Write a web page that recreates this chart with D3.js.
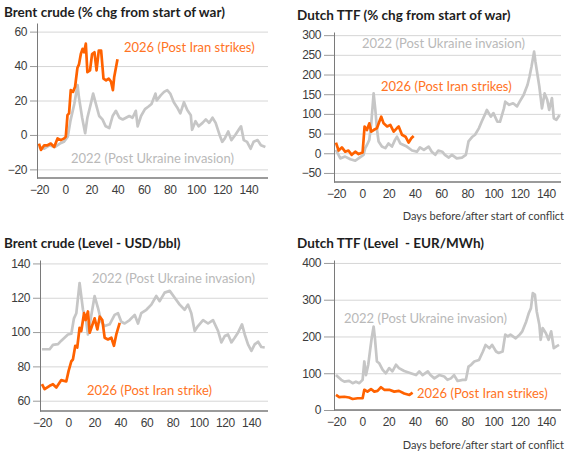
<!DOCTYPE html>
<html>
<head>
<meta charset="utf-8">
<script src="https://cdn.jsdelivr.net/npm/d3@7"></script>
<style>
  body { margin: 0; background: #fff; }
  svg { font-family: Lato, "Noto Sans", sans-serif; }
</style>
</head>
<body>
<svg id="chart"></svg>
<script>
const WIDTH = 568
const HEIGHT = 457

const xTicks = [-20, 0, 20, 40, 60, 80, 100, 120, 140]
const brentPctTicks = [-20, 0, 20, 40, 60]
const ttfPctTicks = [-50, 0, 50, 100, 150, 200, 250, 300]
const brentLvlTicks = [60, 80, 100, 120, 140]
const ttfLvlTicks = [0, 100, 200, 300, 400]

// [day, value]
const brentPct2022 = [[-20,-7],[-16,-8],[-12,-6],[-8,-7],[-4,-5],[-1,-4],[2,-1],[4,8],[7,18],[9.5,29],[10.5,22],[13,10],[15.3,1],[17,10],[19.6,18],[21.4,24],[23.5,18],[26,11],[28.5,9],[31,5],[33.7,4],[36.3,11],[38.8,14],[41.4,10],[44,9],[46.5,10],[49,11],[51.5,10],[54,14],[55.4,5],[58,11],[61,15],[63.7,16.5],[66,18],[69,24],[70,20],[73,23],[75.6,25],[78,26],[80.3,24],[83,19],[85.6,16],[88,12.5],[90.8,19],[93.3,14.5],[96,11.5],[97,3],[99.6,8],[102,5],[105,7],[107.5,9],[110,7],[112.6,10],[115,7],[118,0],[120,-4],[122,-2],[124.6,2],[127,-3],[130,0],[132.6,3],[134.4,5],[136.5,-3],[139,-4],[141.7,-8],[144,-4],[147,-3],[149.6,-6],[153,-7]]
const brentPct2026 = [[-20,-5],[-18.5,-8.7],[-16,-6],[-13.4,-6],[-11,-5],[-8.4,-7],[-5.8,-2],[-3.3,-3],[-0.7,-2],[0.5,-1],[1.8,11.5],[3,12.5],[4.3,26],[6,25],[7.6,28],[9.4,39],[10.6,41],[12,47],[13.3,50],[14.5,48],[15.8,53],[17,36.5],[19,37.5],[20.6,47],[22.4,48],[24,37.5],[25.7,49],[27.5,49],[29.3,32.7],[31.3,31.7],[33.3,32.7],[35,31],[36.5,26],[37.5,33.7],[40,44]]

const ttfPct2022 = [[-20,8.5],[-16.7,-13],[-13,-8.5],[-9,-15],[-5.3,-19],[-2.8,-13],[1,-4],[2.3,13],[3.6,21],[5.4,34],[6.9,76],[8.7,152],[10,110],[11.3,59],[12.5,30],[15,17],[17.6,13],[20,25],[22.7,17],[25,34],[26.5,42],[29,25],[31.5,21],[34,17],[38,7],[41.7,4],[44,15],[47,8.5],[50.6,17],[53,4],[55.7,-4],[58,7],[61,4],[63,-4],[66,-11],[68.4,-4],[72,-13],[76,-11],[79,-4],[81,30],[84,42],[86,47],[89,64],[91,80],[94,102],[95,110],[98,93],[100,102],[103,80],[105,80],[108,114],[109,131],[112,123],[115,127],[118,119],[120,131],[123,148],[126,174],[127.5,195],[129,220],[131,258],[132,233],[135,169],[137,114],[139,152],[141,136],[142.5,110],[144.6,140],[146,89],[148,85],[150.4,97]]
const ttfPct2026 = [[-20,27],[-18,7],[-15.5,15],[-13,4],[-10.5,7],[-8,-4],[-5.3,4],[-2.8,-2],[0.3,2],[1.8,68],[3.6,59],[5.4,76],[6.9,55],[8.7,59],[11.3,64],[13,80],[14.5,93],[16.3,76],[19,68],[21.4,72],[24,55],[26.5,64],[27.8,68],[30.3,47],[33,42],[35.4,27],[37.4,38],[39.2,44]]

const brentLvl2022 = [[-20,90],[-14.1,90],[-11.6,92.5],[-7.7,93],[-5.2,95],[-0.1,98.6],[2.5,99],[4.5,108],[6.3,111],[8.8,128.6],[11.4,113],[13.9,106],[15.2,98.6],[17.8,110],[20.3,121],[22.9,114],[25.4,106],[28,103.5],[31.8,104.5],[35.6,110],[38.2,111],[40.7,106],[43.3,105],[47.1,107],[51,110],[53.5,105],[56,111],[59.9,113],[63.7,116],[67.5,121],[70.1,118],[73.9,123],[77.8,124],[81.6,120],[85.4,116],[89.2,113],[91.8,116],[94.3,111],[96.9,100.6],[99.4,103.5],[103.3,107],[107.1,105],[110.9,107],[114.8,100.6],[117.3,94],[119.9,97.7],[122.4,98.6],[125,94],[127.5,96.7],[130,99.6],[133.1,104.5],[135.2,98.6],[137.7,92.8],[140.3,89],[142.8,92.8],[145.4,94.4],[147.9,91.3],[150.5,91]]
const brentLvl2026 = [[-20,69.6],[-18,66.7],[-14.1,68.7],[-11.6,69.6],[-9,67.7],[-5.2,72],[-1.4,71.2],[0.4,77.4],[2.5,83],[3.7,84],[5.5,92],[7,91],[8.8,102.5],[10.1,100.6],[12.2,111],[13.4,107],[15.2,112],[16.5,99.6],[18.3,103.5],[20.3,108],[22.4,101.5],[24.2,109],[26.2,107],[28,96.7],[30.5,95.7],[33.1,96.7],[35.1,92],[36.9,98.6],[39.5,105.4]]

const ttfLvl2022 = [[-20,95],[-16,82],[-13.6,77],[-10,79],[-7.3,73],[-4.8,77],[-2.2,73],[0.3,82],[1.6,132],[2.9,95],[4.6,123],[6.2,168],[7.2,195],[8.7,227],[9.7,195],[11.2,132],[13,127],[15.6,109],[18,100],[20.6,114],[23,105],[25.7,123],[28,114],[32,106],[37,100],[41,95],[43.5,105],[46,95],[50,105],[52,95],[55,86],[58.7,95],[62.5,91],[65,82],[67.6,86],[70,95],[72.7,79],[76.5,82],[79,82],[81,118],[83,123],[85.4,132],[89,136],[92,159],[94,177],[97,168],[99,177],[102,159],[104,155],[107,159],[109,205],[111,200],[113,205],[117,195],[120,205],[122,214],[125,241],[127,264],[128.6,277],[130,318],[131.6,314],[133,268],[135,232],[136,191],[137.5,223],[140,209],[142,191],[144,214],[146,168],[148,173],[150,177]]
const ttfLvl2026 = [[-20,41],[-17.5,35],[-13.6,36],[-10,34],[-7.3,30],[-3.5,32],[0.3,32],[1.6,55],[4,50],[6.7,57],[9.2,50],[11.7,52],[14.3,62],[16.8,55],[20.6,55],[24.4,50],[28,52],[32,45],[36,41],[38.4,47]]

const ORANGE = '#ff6200'
const GREY = '#c6c6c6'

const panels = [
    {
        title: 'Brent crude (% chg from start of war)', tx: 4, ty: 17,
        box: [37, 268, 23, 178], xDomain: [-21.5, 155], yDomain: [-25, 65], yTicks: brentPctTicks, tickLen: 7,
        grey: brentPct2022, orange: brentPct2026,
        greyLabel: ['2022 (Post Ukraine invasion)', 71, 162.5],
        orangeLabel: ['2026 (Post Iran strikes)', 124, 51.5]
    },
    {
        title: 'Dutch TTF (% chg from start of war)', tx: 297, ty: 20,
        box: [334, 561, 32, 182], xDomain: [-21.5, 151.5], yDomain: [-73, 308], yTicks: ttfPctTicks, tickLen: 10,
        grey: ttfPct2022, orange: ttfPct2026,
        greyLabel: ['2022 (Post Ukraine invasion)', 362, 47.5],
        orangeLabel: ['2026 (Post Iran strikes)', 381, 90.5],
        xLabelY: 219.5
    },
    {
        title: 'Brent crude (Level - USD/bbl)', tx: 4, ty: 248,
        box: [40, 268, 260, 411], xDomain: [-21.5, 153], yDomain: [54, 142], yTicks: brentLvlTicks, tickLen: 7,
        grey: brentLvl2022, orange: brentLvl2026,
        greyLabel: ['2022 (Post Ukraine invasion)', 92, 282.5],
        orangeLabel: ['2026 (Post Iran strike)', 87, 394.5]
    },
    {
        title: 'Dutch TTF (Level  - EUR/MWh)', tx: 297, ty: 248,
        box: [334, 561, 260, 410], xDomain: [-21.5, 151.5], yDomain: [0, 408], yTicks: ttfLvlTicks, tickLen: 10,
        grey: ttfLvl2022, orange: ttfLvl2026,
        greyLabel: ['2022 (Post Ukraine invasion)', 344, 322.5],
        orangeLabel: ['2026 (Post Iran strikes)', 417, 397.5],
        xLabelY: 449
    }
]

const svg = d3.select('#chart')
    .attr('width', WIDTH)
    .attr('height', HEIGHT)

const drawPanel = p => {
    const [left, right, top, bottom] = p.box
    const x = d3.scaleLinear().domain(p.xDomain).range([left, right])
    const y = d3.scaleLinear().domain(p.yDomain).range([bottom, top])
    const g = svg.append('g')

    // gridlines
    g.append('g')
        .attr('transform', `translate(${left}, 0)`)
        .call(d3.axisLeft(y).tickValues(p.yTicks).tickSize(-(right - left)).tickFormat(''))
        .call(a => a.select('.domain').remove())
        .selectAll('line')
        .attr('stroke', '#d6d6d6')

    // y axis
    const yAxis = g.append('g')
        .attr('transform', `translate(${left}, 0)`)
        .call(d3.axisLeft(y).tickValues(p.yTicks).tickSize(p.tickLen).tickPadding(3).tickSizeOuter(0))
    yAxis.select('.domain').attr('stroke', '#7a7a7a')
    yAxis.selectAll('line').attr('stroke', '#9a9a9a')
    yAxis.selectAll('text')
        .attr('fill', '#3c3c3c')
        .style('font-size', '12px')
        .style('letter-spacing', '-0.4px')

    // x axis
    const xAxis = g.append('g')
        .attr('transform', `translate(0, ${bottom})`)
        .call(d3.axisBottom(x).tickValues(xTicks).tickSize(0).tickPadding(7))
    xAxis.select('.domain').remove()
    xAxis.selectAll('text')
        .attr('fill', '#3c3c3c')
        .style('font-size', '12px')
        .style('letter-spacing', '-0.4px')
    g.append('line')
        .attr('x1', left).attr('x2', right)
        .attr('y1', bottom).attr('y2', bottom)
        .attr('stroke', '#7a7a7a')
        .attr('stroke-width', 1.5)

    const line = d3.line()
        .x(d => x(d[0]))
        .y(d => y(d[1]))

    g.append('path')
        .datum(p.grey)
        .attr('d', line)
        .attr('fill', 'none')
        .attr('stroke', GREY)
        .attr('stroke-width', 2.7)
        .attr('stroke-linejoin', 'round')

    g.append('path')
        .datum(p.orange)
        .attr('d', line)
        .attr('fill', 'none')
        .attr('stroke', ORANGE)
        .attr('stroke-width', 2.7)
        .attr('stroke-linejoin', 'round')

    g.append('text')
        .attr('x', p.tx).attr('y', p.ty)
        .attr('fill', '#1e1e1e')
        .style('font-size', '13.5px')
        .style('font-weight', 'bold')
        .style('white-space', 'pre')
        .text(p.title)

    g.append('text')
        .attr('x', p.greyLabel[1]).attr('y', p.greyLabel[2])
        .attr('fill', '#b9b9b9')
        .style('font-size', '13px')
        .text(p.greyLabel[0])

    g.append('text')
        .attr('x', p.orangeLabel[1]).attr('y', p.orangeLabel[2])
        .attr('fill', '#ff7324')
        .style('font-size', '13px')
        .text(p.orangeLabel[0])

    if (p.xLabelY) {
        g.append('text')
            .attr('x', 564).attr('y', p.xLabelY)
            .attr('text-anchor', 'end')
            .attr('fill', '#3c3c3c')
            .style('font-size', '11px')
            .text('Days before/after start of conflict')
    }
}

panels.forEach(drawPanel)
</script>
</body>
</html>
